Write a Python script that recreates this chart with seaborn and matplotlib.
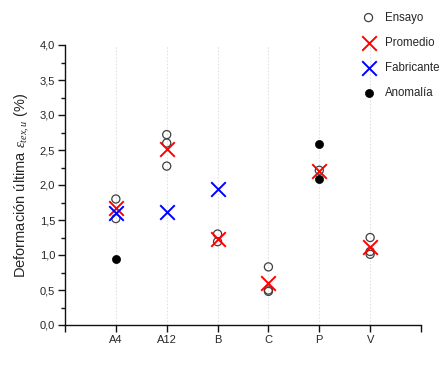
import numpy as np
import pandas as pd
import seaborn as sns
import matplotlib.pyplot as plt
from matplotlib.ticker import MultipleLocator, FixedLocator, FixedFormatter

# Categories (materials)
categories = ['A4', 'A12', 'B', 'C', 'P', 'V']

# Individual test results (Ensayo)
ensayo_cat = ['A4', 'A4', 'A12', 'A12', 'A12', 'B', 'B', 'C', 'C', 'C', 'P', 'V', 'V', 'V']
ensayo_val = [1.80, 1.52, 2.72, 2.60, 2.27, 1.30, 1.19, 0.83, 0.50, 0.48, 2.21, 1.25, 1.05, 1.01]

# Mean per material (Promedio)
promedio_val = [1.67, 2.51, 1.23, 0.60, 2.20, 1.12]

# Manufacturer values (Fabricante)
fabricante_cat = ['A4', 'A12', 'B']
fabricante_val = [1.60, 1.61, 1.94]

# Anomalous results (Anomalía)
anomalia_cat = ['A4', 'P', 'P']
anomalia_val = [0.94, 2.59, 2.09]

pos = {c: i + 1 for i, c in enumerate(categories)}

df_ens = pd.DataFrame({'x': [pos[c] for c in ensayo_cat], 'y': ensayo_val})
df_prom = pd.DataFrame({'x': [pos[c] for c in categories], 'y': promedio_val})
df_fab = pd.DataFrame({'x': [pos[c] for c in fabricante_cat], 'y': fabricante_val})
df_anom = pd.DataFrame({'x': [pos[c] for c in anomalia_cat], 'y': anomalia_val})

sns.set_style("white")
plt.rcParams['font.family'] = ['Liberation Sans', 'DejaVu Sans']
plt.rcParams['mathtext.fontset'] = 'custom'
plt.rcParams['mathtext.it'] = 'Liberation Serif:italic'
plt.rcParams['mathtext.rm'] = 'Liberation Serif'

fig = plt.figure(figsize=(4.44, 3.70), dpi=100)
ax = fig.add_axes([65 / 444, 1 - 325 / 370, (421 - 65) / 444, (325 - 45) / 370])

sns.scatterplot(data=df_ens, x='x', y='y', ax=ax, marker='o', s=34,
                facecolors='none', edgecolor='#404040', linewidth=0.9,
                label='Ensayo', zorder=3)
sns.scatterplot(data=df_anom, x='x', y='y', ax=ax, marker='o', s=34,
                color='black', edgecolor='black', linewidth=0.5,
                label='Anomalía', zorder=3)
sns.scatterplot(data=df_prom, x='x', y='y', ax=ax, marker='x', s=110,
                color='red', linewidth=1.4, label='Promedio', zorder=4)
sns.scatterplot(data=df_fab, x='x', y='y', ax=ax, marker='x', s=110,
                color='blue', linewidth=1.4, label='Fabricante', zorder=4)

ax.set_xlim(0, 7)
ax.set_ylim(0, 4)
ax.xaxis.set_major_locator(FixedLocator(range(0, 8)))
ax.xaxis.set_major_formatter(FixedFormatter([''] + categories + ['']))
ax.yaxis.set_major_locator(MultipleLocator(0.5))
ax.yaxis.set_minor_locator(MultipleLocator(0.25))
ax.yaxis.set_major_formatter(plt.FuncFormatter(lambda v, p: f"{v:.1f}".replace('.', ',')))

for x in range(1, 7):
    ax.axvline(x, color='#e2e2e2', linestyle=(0, (1.5, 1.5)), linewidth=0.8, zorder=0)

ax.spines['top'].set_visible(False)
ax.spines['right'].set_visible(False)
for s in ['left', 'bottom']:
    ax.spines[s].set_linewidth(1.0)
    ax.spines[s].set_color('#111111')

ax.tick_params(axis='both', which='major', direction='out', length=5, width=1.0,
               labelsize=8, color='#111111', pad=2, left=True, bottom=True)
ax.tick_params(axis='y', which='minor', direction='out', length=3, width=1.0,
               color='#111111', left=True)

ax.set_xlabel('')
ax.set_ylabel(r'Deformación última $\varepsilon_{tex,u}$ (%)', fontsize=10.5, labelpad=6)

handles, labels = ax.get_legend_handles_labels()
order = ['Ensayo', 'Promedio', 'Fabricante', 'Anomalía']
hmap = dict(zip(labels, handles))
ax.legend([hmap[k] for k in order], order, loc='upper left',
          bbox_to_anchor=(357 / 444, 1 - 7 / 370), bbox_transform=fig.transFigure,
          frameon=False, fontsize=8.3, labelspacing=1.13, handletextpad=0.8,
          handlelength=1.2, borderaxespad=0)

fig.savefig('out.png', dpi=100)
